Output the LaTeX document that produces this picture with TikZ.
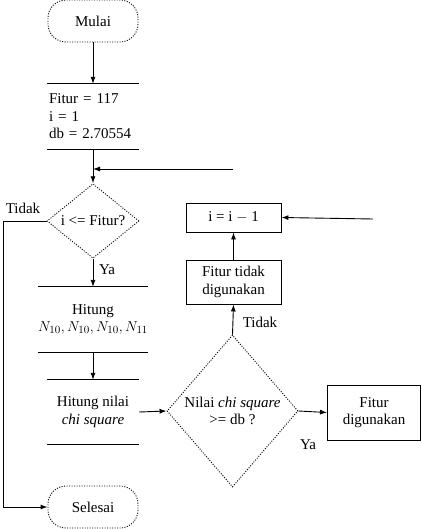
\documentclass[tikz,border=0pt]{standalone}
\usepackage{fontspec}
\setmainfont{Liberation Serif}
\usetikzlibrary{shapes.geometric,arrows.meta}

\tikzset{
	terminal/.style={shape=rectangle,rounded corners=18pt,draw=black,line width=0.9pt,dash pattern=on 1pt off 1.5pt,minimum width=90pt,minimum height=42pt,text depth=0pt},
	keputusan/.style={shape=diamond,draw=black,line width=0.9pt,dash pattern=on 1pt off 1.5pt,inner sep=0pt,align=center},
	kotak/.style={shape=rectangle,draw=black,align=center,inner sep=0pt},
	datastore/.style={shape=rectangle,inner sep=0pt,minimum width=92pt,minimum height=65pt},
	panah/.style={-{Latex[length=7pt,width=5pt]},line width=0.9pt},
	garis/.style={line width=0.9pt},
}

\begin{document}
\begin{tikzpicture}[x=1pt,y=-1pt,font=\fontsize{15}{17.5}\selectfont]
	\useasboundingbox (0,0) rectangle (421,529);

	\node[terminal] (mulai) at (93, 21)      {Mulai};

	\node[datastore,align=left,text width=88pt] (inisial) at (93, 116.5) {Fitur = 117\\i = 1\\db = 2.70554};
	\draw[garis] (inisial.north west) -- (inisial.north east);
	\draw[garis] (inisial.south west) -- (inisial.south east);

	\node[keputusan,minimum width=92pt,minimum height=63pt] (cek) at (93, 221)  {i <= Fitur?};

	\node[datastore,align=center] (hitung) at (93, 319.5) {Hitung\\$N_{10},N_{10},N_{10},N_{11}$};
	\draw[garis] (hitung.north west) -- (hitung.north east);
	\draw[garis] (hitung.south west) -- (hitung.south east);

	\node[datastore,align=center,minimum height=64pt] (chi) at (93, 412) {Hitung nilai\\\textit{chi square}};
	\draw[garis] (chi.north west) -- (chi.north east);
	\draw[garis] (chi.south west) -- (chi.south east);

	\node[terminal] (selesai) at (93, 507)     {Selesai};

	\node[keputusan,minimum width=131pt,minimum height=152pt] (banding) at (232.5, 411) {Nilai \textit{chi square}\\>= db ?};

	\node[kotak,minimum width=93pt,minimum height=55pt,line width=0.9pt] (guna) at (374, 412.5) {Fitur\\digunakan};
	\node[kotak,minimum width=95pt,minimum height=44pt,line width=0.9pt] (tidakguna) at (233.5, 282) {Fitur tidak\\digunakan};
	\node[kotak,minimum width=95pt,minimum height=29pt,line width=0.9pt] (kurang) at (233.5, 217.5) {i = i $-$ 1};

	\coordinate (balik) at (233, 169);
	\coordinate (gabung) at (93, 169);
	\coordinate (masuk) at (373, 219);
	\coordinate (kiri) at (3, 221);

	\draw[panah] (mulai) -- (inisial);
	\draw[panah] (inisial) -- (cek);
	\draw[panah] (balik) -- (gabung);

	\draw[panah] (cek.west) -- (kiri) |- (selesai.west);
	\node (tidak1) at (23, 208) {Tidak};

	\draw[panah] (cek) -- (hitung);
	\node (ya1) at (107, 270) {Ya};

	\draw[panah] (hitung) -- (chi);
	\draw[panah] (chi.east) -- (banding.west);

	\draw[panah] (banding.east) -- (guna.west);
	\node (ya2) at (308, 445) {Ya};

	\draw[panah] (banding.north) -- (tidakguna.south);
	\node (tidak2) at (260, 322) {Tidak};

	\draw[panah] (tidakguna) -- (kurang);
	\draw[panah] (masuk) -- (kurang.east);

\end{tikzpicture}
\end{document}
